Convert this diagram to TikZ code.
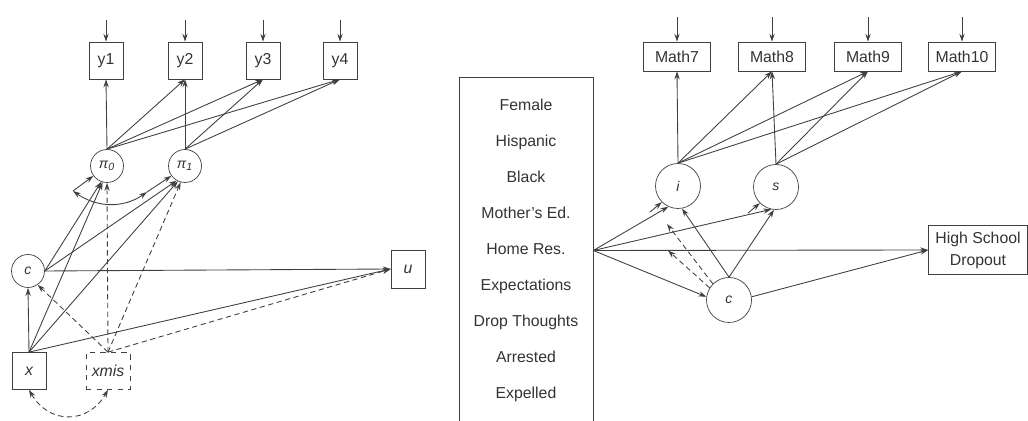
\documentclass[tikz,border=0pt]{standalone}
\usepackage{fontspec}
\setmainfont{Liberation Sans}
\usetikzlibrary{arrows.meta}

\tikzset{
  every node/.style={text=black!80},
  obsbox/.style={draw=black!75, minimum width=0.68cm, minimum height=0.74cm, inner sep=0pt, font=\fontsize{9}{10}\selectfont},
  mathbox/.style={obsbox, minimum width=1.34cm, minimum height=0.58cm},
  latent/.style={draw=black!75, circle, minimum size=0.66cm, inner sep=0pt, font=\fontsize{8}{9}\selectfont\itshape},
  biglatent/.style={latent, minimum size=0.9cm},
  arr/.style={draw=black!75, line width=0.5pt, -{Stealth[length=4.5pt,width=3pt]}},
  darr/.style={arr, {Stealth[length=4.5pt,width=3pt]}-{Stealth[length=4.5pt,width=3pt]}},
  dashedarr/.style={arr, dash pattern=on 3pt off 2pt},
}

\begin{document}
\begin{tikzpicture}[x=0.02cm, y=0.02cm]
\useasboundingbox (0,0) rectangle (1028,-421);

% left model
\node[obsbox] (y1) at (106,-60.5) {y1};
\node[obsbox] (y2) at (185,-60.5) {y2};
\node[obsbox] (y3) at (263,-60.5) {y3};
\node[obsbox] (y4) at (340,-60.5) {y4};
\node[latent] (pi0) at (107,-166) {π\textsubscript{0}};
\node[latent] (pi1) at (185,-166) {π\textsubscript{1}};
\node[latent] (c) at (28,-271) {c};
\node[obsbox, minimum height=0.76cm] (u) at (408,-269) {\itshape u};
\node[obsbox] (x) at (29,-371) {\itshape x};
\node[obsbox, dashed, minimum width=0.88cm] (xmis) at (108,-371) {\itshape xmis};
\coordinate (e0) at (73,-191);
\coordinate (e1) at (147,-192);

\foreach \n in {y1,y2,y3,y4} \draw[arr] (\n.north) ++(0,22) -- (\n.north);
\foreach \n in {y1,y2,y3,y4} \draw[arr] (pi0.north) -- (\n.south);
\foreach \n in {y2,y3,y4} \draw[arr] (pi1.north) -- (\n.south);

\draw[arr] (e0) -- (pi0.216);
\draw[arr] (e1) -- (pi1.216);
\draw[darr] (e0) to[out=-35,in=-145] (e1);

\draw[arr] (x.north) -- (c.south);
\draw[arr] (x.north) -- (pi0.255);
\draw[arr] (x.north) -- (pi1.245);
\draw[arr] (x.north) -- (u.west);
\draw[arr] (c.east) -- (pi0.250);
\draw[arr] (c.east) -- (pi1.240);
\draw[arr] (c.east) -- (u.west);
\draw[dashedarr] (xmis.north) -- (c.-55);
\draw[dashedarr] (xmis.north) -- (pi0.south);
\draw[dashedarr] (xmis.north) -- (pi1.255);
\draw[dashedarr] (xmis.north) -- (u.west);
\draw[darr, dash pattern=on 3pt off 2pt] (x.south) to[out=-60,in=-120,looseness=1.3] (xmis.south);

% right model
\node[draw=black!75, minimum width=2.68cm, minimum height=6.94cm, align=center,
  font=\fontsize{9}{20.5}\selectfont] (cov) at (526,-250.5)
  {Female\\Hispanic\\Black\\Mother's Ed.\\Home Res.\\Expectations\\Drop Thoughts\\Arrested\\Expelled};
\node[mathbox] (m7) at (677,-56.5) {Math7};
\node[mathbox] (m8) at (772,-56.5) {Math8};
\node[mathbox] (m9) at (868,-56.5) {Math9};
\node[mathbox] (m10) at (962,-56.5) {Math10};
\node[biglatent] (i) at (678,-186) {i};
\node[biglatent] (s) at (776,-187) {s};
\node[biglatent] (c2) at (729,-300) {c};
\node[obsbox, minimum width=1.98cm, minimum height=0.98cm, align=center,
  font=\fontsize{9}{12.5}\selectfont] (hsd) at (978,-250) {High School\\Dropout};
\coordinate (d1) at (667,-224);
\coordinate (d2) at (668,-250.5);

\foreach \n in {m7,m8,m9,m10} \draw[arr] (\n.north) ++(0,25) -- (\n.north);
\foreach \n in {m7,m8,m9,m10} \draw[arr] (i.north) -- (\n.south);
\foreach \n in {m8,m9,m10} \draw[arr] (s.north) -- (\n.south);

\draw[arr] (i.225) ++(-12,-10) -- (i.225);
\draw[arr] (s.225) ++(-12,-10) -- (s.225);

\draw[arr] (cov.east) -- (i.245);
\draw[arr] (cov.east) -- (s.258);
\draw[arr] (cov.east) -- (hsd.west);
\draw[arr] (cov.east) -- (c2.172);
\draw[arr] (c2.north) -- (i.280);
\draw[arr] (c2.north) -- (s.265);
\draw[arr] (c2.8) -- (hsd.west);
\draw[dashedarr] (c2.135) -- (d1);
\draw[dashedarr] (c2.148) -- (d2);
\end{tikzpicture}
\end{document}
